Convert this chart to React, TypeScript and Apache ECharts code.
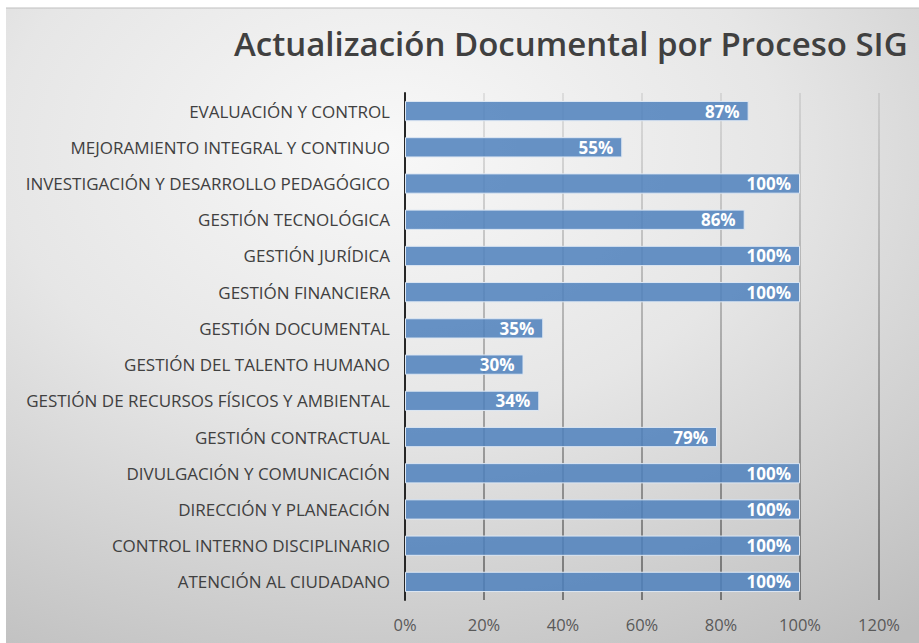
import React, { useEffect, useRef } from "react";
import * as echarts from "echarts";

const categories = [
  "EVALUACIÓN Y CONTROL",
  "MEJORAMIENTO INTEGRAL Y CONTINUO",
  "INVESTIGACIÓN Y DESARROLLO PEDAGÓGICO",
  "GESTIÓN TECNOLÓGICA",
  "GESTIÓN JURÍDICA",
  "GESTIÓN FINANCIERA",
  "GESTIÓN DOCUMENTAL",
  "GESTIÓN DEL TALENTO HUMANO",
  "GESTIÓN DE RECURSOS FÍSICOS Y AMBIENTAL",
  "GESTIÓN CONTRACTUAL",
  "DIVULGACIÓN Y COMUNICACIÓN",
  "DIRECCIÓN Y PLANEACIÓN",
  "CONTROL INTERNO DISCIPLINARIO",
  "ATENCIÓN AL CIUDADANO",
];
const values = [87, 55, 100, 86, 100, 100, 35, 30, 34, 79, 100, 100, 100, 100];
const titleText = "Actualización Documental por Proceso SIG";

export default function App() {
  const ref = useRef<HTMLDivElement>(null);
  useEffect(() => {
    if (!ref.current) return;
    const chart = echarts.init(ref.current, undefined, { renderer: "svg" });
    const gridTop = 93;
    const gridBottom = 600;
    chart.setOption({
      animation: false,
      backgroundColor: "#ffffff",
      graphic: [
        {
          type: "rect",
          z: -10,
          silent: true,
          shape: { x: 6, y: 8, width: 913, height: 635 },
          style: {
            fill: {
              type: "radial",
              x: 0.42,
              y: 0.22,
              r: 0.95,
              colorStops: [
                { offset: 0, color: "#f8f8f8" },
                { offset: 0.45, color: "#e6e6e6" },
                { offset: 1, color: "#bdbdbd" },
              ],
            },
          },
        },
        {
          type: "line",
          z: -9,
          silent: true,
          shape: { x1: 6, y1: 8, x2: 919, y2: 8 },
          style: { stroke: "#bfbfbf", lineWidth: 1 },
        },
        {
          type: "text",
          left: 234,
          top: 27,
          style: {
            text: titleText,
            font: "600 33px 'Open Sans', sans-serif",
            fill: "#404040",
          },
        },
      ],
      grid: { left: 405, right: 40, top: gridTop, bottom: 643 - gridBottom, containLabel: false },
      xAxis: {
        type: "value",
        min: 0,
        max: 120,
        interval: 20,
        axisLine: { show: false },
        axisTick: { show: false },
        axisLabel: {
          formatter: "{value}%",
          color: "#595959",
          fontSize: 16.5,
          fontFamily: "'Open Sans', sans-serif",
          margin: 16,
        },
        splitLine: {
          show: true,
          lineStyle: {
            width: 2,
            color: {
              type: "linear",
              x: 0,
              y: gridTop,
              x2: 0,
              y2: gridBottom,
              global: true,
              colorStops: [
                { offset: 0, color: "rgba(0,0,0,0.08)" },
                { offset: 1, color: "rgba(0,0,0,0.42)" },
              ],
            },
          },
        },
      },
      yAxis: {
        type: "category",
        data: categories,
        inverse: true,
        axisLine: { show: true, lineStyle: { color: "#262626", width: 2 } },
        axisTick: { show: false },
        axisLabel: {
          color: "#404040",
          fontSize: 17,
          fontFamily: "'Open Sans', sans-serif",
          margin: 15,
        },
      },
      series: [
        {
          type: "bar",
          data: values,
          barCategoryGap: "44%",
          itemStyle: {
            color: "rgba(79,129,189,0.86)",
            borderColor: "#dde7f3",
            borderWidth: 1,
          },
          label: {
            show: true,
            position: "insideRight",
            distance: 9,
            formatter: "{c}%",
            color: "#ffffff",
            fontSize: 17,
            fontWeight: "bold",
            fontFamily: "'Open Sans', sans-serif",
          },
        },
      ],
    });
    return () => chart.dispose();
  }, []);
  return (
    <div
      ref={ref}
      style={{ position: "absolute", left: 0, top: 0, width: 919, height: 643 }}
    />
  );
}
